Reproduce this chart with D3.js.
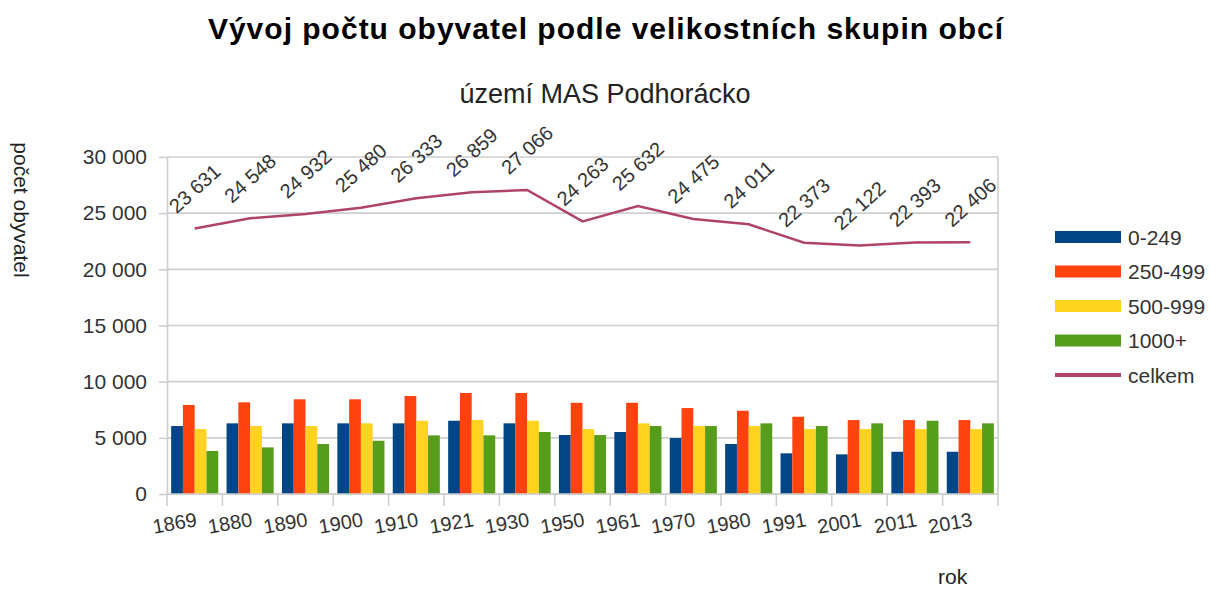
<!DOCTYPE html>
<html>
<head>
<meta charset="utf-8">
<script src="https://cdn.jsdelivr.net/npm/d3@7"></script>
<style>
  body { margin: 0; background: #fff; }
  text { font-family: "Liberation Sans", Arial, sans-serif; }
</style>
</head>
<body>
<div id="chart"></div>
<script>
// data
const years = ["1869", "1880", "1890", "1900", "1910", "1921", "1930", "1950",
               "1961", "1970", "1980", "1991", "2001", "2011", "2013"];
const groupNames = ["0-249", "250-499", "500-999", "1000+"];
const pop0_249    = [6050, 6290, 6290, 6290, 6290, 6520, 6290, 5250, 5520, 4980, 4450, 3620, 3530, 3760, 3760];
const pop250_499  = [7920, 8160, 8430, 8430, 8720, 8990, 8990, 8120, 8120, 7650, 7410, 6880, 6580, 6580, 6580];
const pop500_999  = [5780, 6050, 6050, 6290, 6520, 6580, 6520, 5780, 6290, 6050, 6050, 5780, 5780, 5780, 5780];
const pop1000plus = [3830, 4150, 4450, 4740, 5220, 5220, 5520, 5250, 6050, 6050, 6290, 6050, 6290, 6520, 6290];
const celkem      = [23631, 24548, 24932, 25480, 26333, 26859, 27066, 24263, 25632, 24475, 24011, 22373, 22122, 22393, 22406];
const yTicks = [0, 5000, 10000, 15000, 20000, 25000, 30000];

const seriesValues = [pop0_249, pop250_499, pop500_999, pop1000plus];
const COLORS = ["#004586", "#ff420e", "#ffd320", "#579d1c"];
const LINE_COLOR = "#b04468";

const W = 1211, H = 590;
const margin = { top: 157, right: 213, bottom: 96, left: 167 };
const innerW = W - margin.left - margin.right;
const innerH = H - margin.top - margin.bottom;

const svg = d3.select("#chart").append("svg")
  .attr("width", W)
  .attr("height", H);

// number format with space as thousands separator
const fmt = d3.formatLocale({ decimal: ",", thousands: " ", grouping: [3], currency: ["", ""] }).format(",d");

// titles
svg.append("text")
  .attr("x", 606).attr("y", 39)
  .attr("text-anchor", "middle")
  .attr("font-size", "30px").attr("font-weight", "bold")
  .attr("letter-spacing", "1px")
  .attr("fill", "#000")
  .text("Vývoj počtu obyvatel podle velikostních skupin obcí");

svg.append("text")
  .attr("x", 605).attr("y", 103)
  .attr("text-anchor", "middle")
  .attr("font-size", "27px")
  .attr("fill", "#222")
  .text("území MAS Podhorácko");

const chart = svg.append("g")
  .attr("transform", `translate(${margin.left},${margin.top})`);

// scales
const x0 = d3.scaleBand()
  .domain(years)
  .range([0, innerW])
  .paddingInner(0.15)
  .paddingOuter(0.075);

const x1 = d3.scaleBand()
  .domain(d3.range(groupNames.length))
  .range([0, x0.bandwidth()]);

const y = d3.scaleLinear()
  .domain([0, 30000])
  .range([innerH, 0]);

const step = x0.step();
const center = d => x0(d) + x0.bandwidth() / 2;

// gridlines
chart.append("g")
  .selectAll("line")
  .data(yTicks)
  .enter().append("line")
  .attr("x1", 0).attr("x2", innerW)
  .attr("y1", d => y(d)).attr("y2", d => y(d))
  .attr("stroke", "#cfcfcf")
  .attr("stroke-width", 1.6);

// frame (right side)
chart.append("line")
  .attr("x1", innerW).attr("x2", innerW)
  .attr("y1", 0).attr("y2", innerH)
  .attr("stroke", "#cfcfcf").attr("stroke-width", 1.6);

// bars
seriesValues.forEach((vals, i) => {
  chart.append("g")
    .selectAll("rect")
    .data(years.map((yr, j) => ({ yr, v: vals[j] })))
    .enter().append("rect")
    .attr("x", d => x0(d.yr) + x1(i))
    .attr("y", d => y(d.v))
    .attr("width", x1.bandwidth())
    .attr("height", d => innerH - y(d.v))
    .attr("fill", COLORS[i]);
});

// y axis
const yAxis = chart.append("g")
  .call(d3.axisLeft(y).tickValues(yTicks).tickFormat(fmt).tickSizeInner(8).tickSizeOuter(0).tickPadding(12));
yAxis.select(".domain").attr("stroke", "#cfcfcf").attr("stroke-width", 1.6);
yAxis.selectAll(".tick line").attr("stroke", "#cfcfcf").attr("stroke-width", 1.6);
yAxis.selectAll("text").attr("font-size", "21px").attr("fill", "#333")
  .style("font-family", "'Liberation Sans', Arial, sans-serif");

// x axis: ticks on category boundaries
const xAxisG = chart.append("g")
  .attr("transform", `translate(0,${innerH})`);
xAxisG.append("line")
  .attr("x1", 0).attr("x2", innerW)
  .attr("stroke", "#cfcfcf").attr("stroke-width", 1.6);
xAxisG.selectAll("line.tick")
  .data(d3.range(years.length + 1))
  .enter().append("line")
  .attr("class", "tick")
  .attr("x1", i => i * step).attr("x2", i => i * step)
  .attr("y1", 0).attr("y2", 12)
  .attr("stroke", "#cfcfcf").attr("stroke-width", 1.6);
xAxisG.selectAll("text")
  .data(years)
  .enter().append("text")
  .attr("transform", d => `translate(${center(d) + 3},32) rotate(-10)`)
  .attr("text-anchor", "end")
  .attr("font-size", "20px")
  .attr("fill", "#333")
  .text(d => d);

// total line
const line = d3.line()
  .x((d, i) => center(years[i]))
  .y(d => y(d));

chart.append("path")
  .datum(celkem)
  .attr("fill", "none")
  .attr("stroke", LINE_COLOR)
  .attr("stroke-width", 2.5)
  .attr("d", line);

// data labels on the line
chart.append("g")
  .selectAll("text")
  .data(celkem)
  .enter().append("text")
  .attr("transform", (d, i) => `translate(${center(years[i])},${y(d) - 40}) rotate(-42)`)
  .attr("text-anchor", "middle")
  .attr("dominant-baseline", "central")
  .attr("font-size", "20px")
  .attr("fill", "#333")
  .text(d => fmt(d));

// axis titles
svg.append("text")
  .attr("transform", "translate(14,210) rotate(90)")
  .attr("text-anchor", "middle")
  .attr("font-size", "21px")
  .attr("fill", "#222")
  .text("počet obyvatel");

svg.append("text")
  .attr("x", 938).attr("y", 584)
  .attr("font-size", "21px")
  .attr("fill", "#222")
  .text("rok");

// legend
const legendNames = groupNames.concat(["celkem"]);
const legend = svg.append("g")
  .attr("transform", "translate(1055,237)");

const item = legend.selectAll("g")
  .data(legendNames)
  .enter().append("g")
  .attr("transform", (d, i) => `translate(0,${i * 34.5})`);

item.append("rect")
  .attr("x", 0)
  .attr("y", (d, i) => i < 4 ? -6 : -2)
  .attr("width", 66)
  .attr("height", (d, i) => i < 4 ? 12 : 4)
  .attr("fill", (d, i) => i < 4 ? COLORS[i] : LINE_COLOR);

item.append("text")
  .attr("x", 73)
  .attr("y", 0)
  .attr("dominant-baseline", "central")
  .attr("font-size", "21px")
  .attr("fill", "#333")
  .text(d => d);
</script>
</body>
</html>
